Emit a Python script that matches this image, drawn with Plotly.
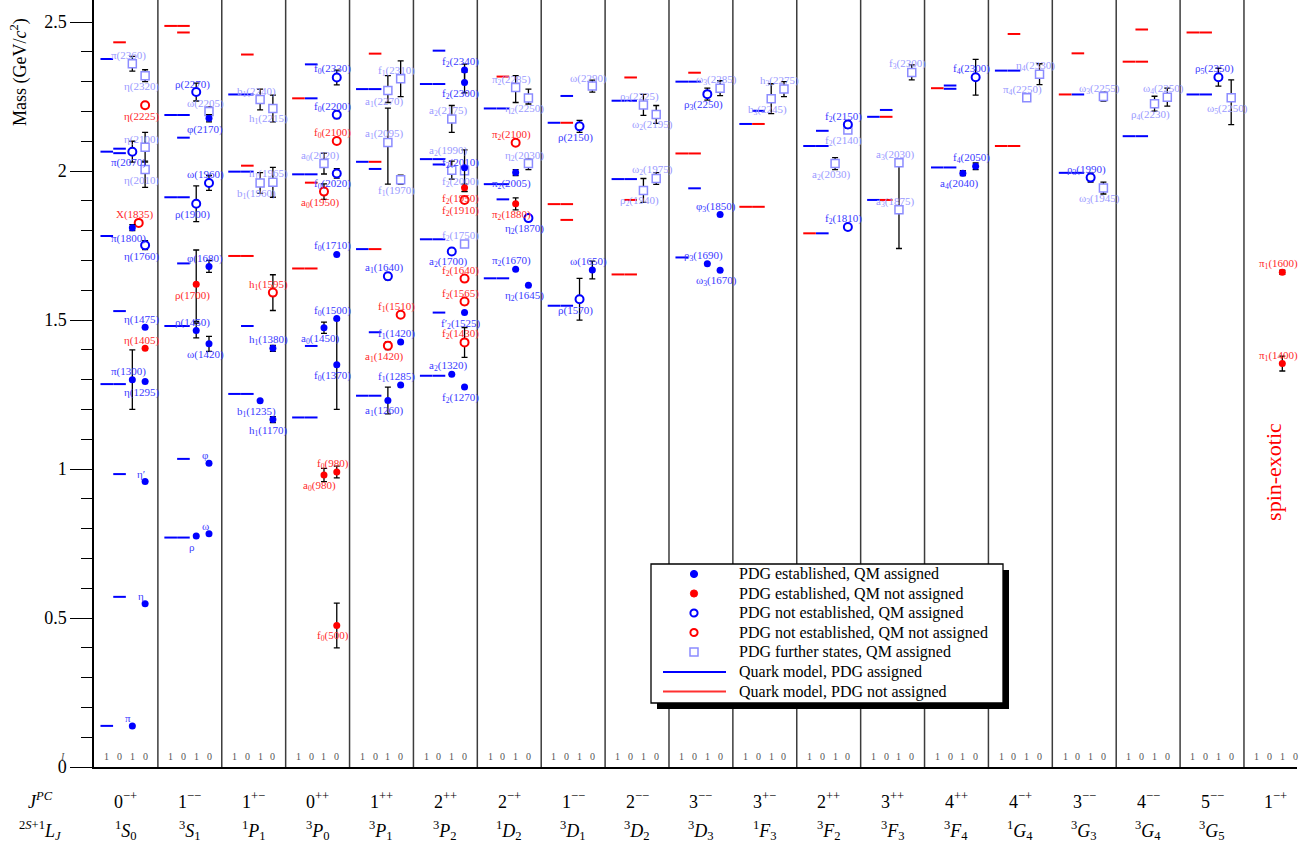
import plotly.graph_objects as go

# ---------------------------------------------------------------- categories
jpc_labels = ["0<sup>−+</sup>", "1<sup>−−</sup>", "1<sup>+−</sup>", "0<sup>++</sup>", "1<sup>++</sup>",
              "2<sup>++</sup>", "2<sup>−+</sup>", "1<sup>−−</sup>", "2<sup>−−</sup>", "3<sup>−−</sup>",
              "3<sup>+−</sup>", "2<sup>++</sup>", "3<sup>++</sup>", "4<sup>++</sup>", "4<sup>−+</sup>",
              "3<sup>−−</sup>", "4<sup>−−</sup>", "5<sup>−−</sup>", "1<sup>−+</sup>"]
term_labels = ["<sup>1</sup><i>S</i><sub>0</sub>", "<sup>3</sup><i>S</i><sub>1</sub>", "<sup>1</sup><i>P</i><sub>1</sub>",
               "<sup>3</sup><i>P</i><sub>0</sub>", "<sup>3</sup><i>P</i><sub>1</sub>", "<sup>3</sup><i>P</i><sub>2</sub>",
               "<sup>1</sup><i>D</i><sub>2</sub>", "<sup>3</sup><i>D</i><sub>1</sub>", "<sup>3</sup><i>D</i><sub>2</sub>",
               "<sup>3</sup><i>D</i><sub>3</sub>", "<sup>1</sup><i>F</i><sub>3</sub>", "<sup>3</sup><i>F</i><sub>2</sub>",
               "<sup>3</sup><i>F</i><sub>3</sub>", "<sup>3</sup><i>F</i><sub>4</sub>", "<sup>1</sup><i>G</i><sub>4</sub>",
               "<sup>3</sup><i>G</i><sub>3</sub>", "<sup>3</sup><i>G</i><sub>4</sub>", "<sup>3</sup><i>G</i><sub>5</sub>", ""]
isospin_row = ["1", "0", "1", "0"]
y_tick_vals = [0, 0.5, 1, 1.5, 2, 2.5]
y_tick_text = ["0", "0.5", "1", "1.5", "2", "2.5"]

# ---------------------------------------------------------------- quark-model levels (GeV)
# kind: "B" = quark model, PDG assigned ; "R" = quark model, PDG not assigned
qm_col = ([0] * 12 + [1] * 14 + [2] * 11 + [3] * 11 + [4] * 11 + [5] * 11 + [6] * 8 + [7] * 8 + [8] * 8 +
          [9] * 7 + [10] * 5 + [11] * 5 + [12] * 5 + [13] * 5 + [14] * 5 + [15] * 5 + [16] * 5 + [17] * 4)
qm_iso = [1, 0, 0, 1, 0, 0, 1, 1, 0, 0, 1, 0,
          1, 0, 0, 1, 0, 0, 1, 0, 0, 1, 0, 1, 0, 0,
          1, 0, 0, 1, 0, 1, 0, 0, 1, 0, 0,
          1, 0, 0, 1, 0, 0, 1, 0, 1, 0, 0,
          1, 0, 0, 1, 0, 1, 0, 0, 1, 0, 0,
          1, 0, 0, 1, 0, 1, 0, 0, 1, 0, 0,
          1, 0, 0, 1, 0, 1, 0, 0,
          1, 0, 0, 1, 0, 1, 0, 0,
          1, 0, 0, 1, 0, 1, 0, 0,
          1, 0, 1, 0, 1, 0, 0,
          1, 0, 1, 0, 0,
          1, 0, 1, 0, 0,
          1, 0, 1, 0, 0,
          1, 0, 1, 0, 0,
          1, 0, 1, 0, 0,
          1, 0, 1, 0, 0,
          1, 0, 1, 0, 0,
          1, 0, 1, 0]
qm_mass = [0.138, 0.571, 0.983, 1.285, 1.285, 1.530, 1.782, 2.065, 2.075, 2.060, 2.376, 2.432,
           0.770, 0.770, 1.034, 1.480, 1.480, 1.690, 1.912, 1.912, 2.112, 2.188, 2.188, 2.487, 2.487, 2.465,
           1.252, 1.252, 1.480, 1.715, 1.715, 1.998, 1.998, 2.018, 2.257, 2.257, 2.391,
           1.173, 1.173, 1.413, 1.673, 1.673, 1.961, 1.989, 1.989, 2.244, 2.244, 2.358,
           1.246, 1.246, 1.459, 1.738, 1.738, 2.031, 2.031, 2.007, 2.275, 2.275, 2.394,
           1.313, 1.313, 1.525, 1.771, 1.771, 2.040, 2.040, 2.022, 2.292, 2.292, 2.404,
           1.640, 1.640, 1.905, 1.956, 1.956, 2.210, 2.210, 2.317,
           1.548, 1.548, 1.836, 1.889, 1.889, 2.162, 2.162, 2.252,
           1.653, 1.653, 1.903, 1.973, 1.973, 2.236, 2.236, 2.314,
           1.710, 1.942, 2.059, 2.059, 2.300, 2.300, 2.330,
           1.880, 1.880, 2.158, 2.158, 2.202,
           1.791, 1.791, 2.084, 2.084, 2.135,
           1.903, 1.903, 2.182, 2.182, 2.205,
           2.012, 2.012, 2.278, 2.287, 2.276,
           2.084, 2.084, 2.337, 2.337, 2.460,
           1.994, 1.994, 2.257, 2.257, 2.395,
           2.117, 2.117, 2.367, 2.367, 2.475,
           2.257, 2.257, 2.465, 2.465]
qm_kind = ["B", "B", "B", "B", "B", "B", "B", "B", "B", "B", "B", "R",
           "B", "B", "B", "B", "B", "B", "B", "B", "B", "B", "B", "R", "R", "R",
           "B", "B", "B", "R", "R", "B", "B", "R", "B", "B", "R",
           "B", "B", "B", "R", "R", "R", "B", "B", "R", "B", "B",
           "B", "B", "B", "B", "R", "B", "R", "B", "B", "B", "R",
           "B", "B", "B", "B", "B", "B", "B", "B", "B", "B", "B",
           "B", "B", "B", "B", "B", "B", "B", "R",
           "B", "B", "R", "R", "R", "B", "R", "B",
           "R", "R", "R", "B", "B", "B", "B", "R",
           "B", "B", "R", "R", "B", "B", "R",
           "R", "R", "B", "R", "B",
           "R", "B", "B", "B", "B",
           "B", "R", "B", "R", "B",
           "B", "B", "R", "B", "B",
           "R", "R", "B", "B", "R",
           "B", "B", "R", "B", "R",
           "B", "B", "R", "R", "R",
           "B", "B", "R", "R"]

# ---------------------------------------------------------------- observed mesons (GeV)
# kind: E established/QM assigned, e established/not assigned,
#       N not established/assigned, n not established/not assigned, F further states
st_name = [
    "π", "π(1300)", "π(1800)", "π(2070)", "π(2360)", "η", "η′", "η(1295)", "η(1405)", "η(1475)",
    "η(1760)", "X(1835)", "η(2010)", "η(2100)", "η(2225)", "η(2320)",
    "ρ", "ρ(1450)", "ρ(1700)", "ρ(1900)", "ρ(2270)", "ω", "φ", "ω(1420)", "φ(1680)", "ω(1960)", "φ(2170)", "ω(2205)",
    "b<sub>1</sub>(1235)", "b<sub>1</sub>(1960)", "b<sub>1</sub>(2240)", "h<sub>1</sub>(1170)", "h<sub>1</sub>(1380)",
    "h<sub>1</sub>(1595)", "h<sub>1</sub>(1965)", "h<sub>1</sub>(2215)",
    "a<sub>0</sub>(980)", "a<sub>0</sub>(1450)", "a<sub>0</sub>(1950)", "a<sub>0</sub>(2020)", "f<sub>0</sub>(500)",
    "f<sub>0</sub>(980)", "f<sub>0</sub>(1370)", "f<sub>0</sub>(1500)", "f<sub>0</sub>(1710)", "f<sub>0</sub>(2020)",
    "f<sub>0</sub>(2100)", "f<sub>0</sub>(2200)", "f<sub>0</sub>(2330)",
    "a<sub>1</sub>(1260)", "a<sub>1</sub>(1420)", "a<sub>1</sub>(1640)", "a<sub>1</sub>(2095)", "a<sub>1</sub>(2270)",
    "f<sub>1</sub>(1285)", "f<sub>1</sub>(1420)", "f<sub>1</sub>(1510)", "f<sub>1</sub>(1970)", "f<sub>1</sub>(2310)",
    "a<sub>2</sub>(1320)", "a<sub>2</sub>(1700)", "a<sub>2</sub>(1990)", "a<sub>2</sub>(2175)", "f<sub>2</sub>(1270)",
    "f<sub>2</sub>(1430)", "f′<sub>2</sub>(1525)", "f<sub>2</sub>(1565)", "f<sub>2</sub>(1640)", "f<sub>2</sub>(1750)",
    "f<sub>2</sub>(1910)", "f<sub>2</sub>(1950)", "f<sub>2</sub>(2000)", "f<sub>2</sub>(2010)", "f<sub>2</sub>(2300)",
    "f<sub>2</sub>(2340)",
    "π<sub>2</sub>(1670)", "π<sub>2</sub>(1880)", "π<sub>2</sub>(2005)", "π<sub>2</sub>(2100)", "π<sub>2</sub>(2285)",
    "η<sub>2</sub>(1645)", "η<sub>2</sub>(1870)", "η<sub>2</sub>(2030)", "η<sub>2</sub>(2250)",
    "ρ(1570)", "ρ(2150)", "ω(1650)", "ω(2290)",
    "ρ<sub>2</sub>(1940)", "ρ<sub>2</sub>(2225)", "ω<sub>2</sub>(1975)", "ω<sub>2</sub>(2195)",
    "ρ<sub>3</sub>(1690)", "ρ<sub>3</sub>(2250)", "φ<sub>3</sub>(1850)", "ω<sub>3</sub>(1670)", "ω<sub>3</sub>(2285)",
    "b<sub>3</sub>(2245)", "h<sub>3</sub>(2275)",
    "a<sub>2</sub>(2030)", "f<sub>2</sub>(1810)", "f<sub>2</sub>(2140)", "f<sub>2</sub>(2150)",
    "a<sub>3</sub>(1875)", "a<sub>3</sub>(2030)", "f<sub>3</sub>(2300)",
    "a<sub>4</sub>(2040)", "f<sub>4</sub>(2050)", "f<sub>4</sub>(2300)",
    "π<sub>4</sub>(2250)", "η<sub>4</sub>(2330)",
    "ρ<sub>3</sub>(1990)", "ω<sub>3</sub>(1945)", "ω<sub>3</sub>(2255)",
    "ρ<sub>4</sub>(2230)", "ω<sub>4</sub>(2250)",
    "ρ<sub>5</sub>(2350)", "ω<sub>5</sub>(2250)",
    "π<sub>1</sub>(1400)", "π<sub>1</sub>(1600)",
]
st_col = ([0] * 16 + [1] * 12 + [2] * 8 + [3] * 13 + [4] * 10 + [5] * 16 + [6] * 9 + [7] * 4 + [8] * 4 +
          [9] * 5 + [10] * 2 + [11] * 4 + [12] * 3 + [13] * 3 + [14] * 2 + [15] * 3 + [16] * 2 + [17] * 2 + [18] * 2)
st_iso = ([1, 1, 1, 1, 1] + [0] * 11 +
          [1] * 5 + [0] * 7 +
          [1] * 3 + [0] * 5 +
          [1] * 4 + [0] * 9 +
          [1] * 5 + [0] * 5 +
          [1] * 4 + [0] * 12 +
          [1] * 5 + [0] * 4 +
          [1, 1, 0, 0] + [1, 1, 0, 0] + [1, 1, 0, 0, 0] + [1, 0] + [1, 0, 0, 0] + [1, 1, 0] +
          [1, 0, 0] + [1, 0] + [1, 0, 0] + [1, 0] + [1, 0] + [1, 1])
st_mass = [0.138, 1.300, 1.810, 2.065, 2.360, 0.548, 0.958, 1.294, 1.405, 1.476,
           1.751, 1.826, 2.005, 2.080, 2.221, 2.320,
           0.775, 1.465, 1.620, 1.890, 2.265, 0.783, 1.019, 1.420, 1.680, 1.960, 2.177, 2.200,
           1.2295, 1.960, 2.240, 1.166, 1.405, 1.592, 1.962, 2.210,
           0.980, 1.474, 1.931, 2.025, 0.475, 0.990, 1.350, 1.505, 1.720, 1.992, 2.101, 2.189, 2.314,
           1.230, 1.414, 1.647, 2.096, 2.270, 1.282, 1.426, 1.518, 1.971, 2.310,
           1.318, 1.730, 2.003, 2.175, 1.275, 1.425, 1.525, 1.562, 1.639, 1.755, 1.903, 1.944, 2.001, 2.011,
           2.297, 2.339,
           1.6706, 1.890, 1.995, 2.095, 2.280, 1.617, 1.842, 2.025, 2.245,
           1.570, 2.150, 1.668, 2.285,
           1.935, 2.222, 1.975, 2.190,
           1.6888, 2.258, 1.854, 1.667, 2.278,
           2.243, 2.275,
           2.025, 1.812, 2.138, 2.156,
           1.870, 2.028, 2.331,
           1.993, 2.016, 2.315,
           2.246, 2.325,
           1.978, 1.943, 2.250,
           2.226, 2.248,
           2.315, 2.246,
           1.354, 1.660]
st_err_lo = [0, 0.100, 0.010, 0.035, 0.025, 0, 0, 0, 0, 0, 0.015, 0.006, 0.060, 0.050, 0.010, 0.020,
             0, 0.025, 0.125, 0.060, 0.030, 0, 0, 0.025, 0.020, 0.025, 0.012, 0.015,
             0, 0.035, 0.035, 0.010, 0.010, 0.060, 0.050, 0.045,
             0.022, 0.019, 0.026, 0.035, 0.075, 0.020, 0.150, 0, 0, 0.016, 0, 0.013, 0.025,
             0.045, 0.013, 0.012, 0.140, 0.040, 0, 0, 0, 0.015, 0.060,
             0, 0.010, 0.030, 0.045, 0, 0.050, 0, 0.010, 0, 0, 0.010, 0.012, 0.010, 0.080, 0.035, 0.040,
             0, 0.020, 0.010, 0, 0.050, 0, 0.008, 0.020, 0.020,
             0.070, 0.020, 0.030, 0.020,
             0.040, 0.035, 0.020, 0.030,
             0, 0.020, 0, 0, 0.025,
             0.050, 0.025,
             0.020, 0.010, 0, 0.012,
             0.130, 0.012, 0.025,
             0.008, 0.011, 0.060,
             0.012, 0.035,
             0.015, 0.020, 0.015,
             0.025, 0.030,
             0.030, 0.090,
             0.025, 0.007]
st_err_hi = [0, 0.100, 0.010, 0.035, 0.025, 0, 0, 0, 0, 0, 0.015, 0.006, 0.028, 0.050, 0.010, 0.020,
             0, 0.025, 0.115, 0.060, 0.030, 0, 0, 0.025, 0.020, 0.025, 0.012, 0.015,
             0, 0.035, 0.035, 0.010, 0.010, 0.060, 0.050, 0.045,
             0.022, 0.019, 0.026, 0.035, 0.075, 0.020, 0.150, 0, 0, 0.016, 0, 0.013, 0.025,
             0.045, 0.013, 0.012, 0.115, 0.050, 0, 0, 0, 0.015, 0.060,
             0, 0.010, 0.030, 0.045, 0, 0.050, 0, 0.010, 0, 0, 0.010, 0.012, 0.010, 0.060, 0.035, 0.020,
             0, 0.020, 0.010, 0, 0.040, 0, 0.008, 0.015, 0.030,
             0.070, 0.020, 0.030, 0.020,
             0.040, 0.035, 0.020, 0.030,
             0, 0.020, 0, 0, 0.025,
             0.050, 0.025,
             0.020, 0.010, 0, 0.012,
             0.150, 0.012, 0.025,
             0.008, 0.011, 0.060,
             0.012, 0.035,
             0.015, 0.020, 0.015,
             0.025, 0.030,
             0.030, 0.060,
             0.025, 0.007]
st_kind = ["E", "E", "E", "N", "F", "E", "E", "E", "e", "E", "N", "n", "F", "F", "n", "F",
           "E", "E", "e", "N", "N", "E", "E", "E", "E", "N", "E", "F",
           "E", "F", "F", "E", "E", "n", "F", "F",
           "e", "E", "n", "F", "e", "e", "E", "E", "E", "N", "n", "N", "N",
           "E", "n", "N", "F", "F", "E", "E", "n", "F", "F",
           "E", "N", "F", "F", "E", "n", "E", "n", "n", "F", "n", "e", "F", "E", "E", "E",
           "E", "e", "E", "n", "F", "E", "N", "F", "F",
           "N", "N", "E", "F",
           "F", "F", "F", "F",
           "E", "N", "E", "E", "F",
           "F", "F",
           "F", "N", "F", "N",
           "F", "F", "F",
           "E", "E", "N",
           "F", "F",
           "N", "F", "F",
           "F", "F",
           "N", "F",
           "e", "e"]

# ---------------------------------------------------------------- label placement (a = above, b = below)
label_side = ["a", "a", "b", "b", "a", "a", "a", "b", "a", "a", "b", "a", "b", "a", "b", "b",
              "b", "a", "b", "b", "a", "a", "a", "b", "a", "a", "b", "a",
              "b", "b", "a", "b", "a", "a", "a", "b",
              "b", "b", "b", "a", "b", "a", "b", "a", "a", "b", "a", "a", "a",
              "b", "b", "a", "a", "b", "a", "a", "a", "b", "a",
              "a", "b", "a", "a", "b", "a", "b", "a", "a", "a", "b", "b", "b", "a", "b", "a",
              "a", "b", "b", "a", "a", "b", "b", "a", "b",
              "b", "b", "a", "a",
              "b", "a", "a", "b",
              "a", "b", "a", "b", "a",
              "b", "a",
              "b", "a", "b", "a",
              "a", "a", "a",
              "b", "a", "a",
              "a", "a",
              "a", "b", "a",
              "b", "a",
              "a", "b",
              "a", "a"]
x_nudge = {"X(1835)": -0.1}
y_label_shift = {"a<sub>2</sub>(1990)": 19, "f<sub>2</sub>(2010)": 5}

n = len(st_name)
for arr in (st_col, st_iso, st_mass, st_err_lo, st_err_hi, st_kind, label_side):
    assert len(arr) == n, (len(arr), n)
for arr in (qm_iso, qm_mass, qm_kind):
    assert len(arr) == len(qm_col)

# ---------------------------------------------------------------- styling
FONT = "Liberation Serif"
BLUE, RED, LIGHT = "#0000ff", "#ff0000", "#8c8cff"
LABEL_COLOR = {"E": "#3a3aff", "N": "#3a3aff", "e": "#ff2a2a", "n": "#ff2a2a", "F": "#9a9aff"}
QM_SLOT = {1: 0.2, 0: 0.4}
ST_SLOT = {1: 0.6, 0: 0.8}
X_MAX = 18.83
PLOT_L, PLOT_W, PLOT_H = 94, 1203, 767


def px(X):
    return (X - PLOT_L) / PLOT_W


def py(Y):
    return (PLOT_H - Y) / PLOT_H


fig = go.Figure()

# quark-model predictions as short horizontal dashes
for kind, color in (("B", BLUE), ("R", RED)):
    idx = [i for i, k in enumerate(qm_kind) if k == kind]
    fig.add_trace(go.Scatter(
        x=[qm_col[i] + QM_SLOT[qm_iso[i]] for i in idx],
        y=[qm_mass[i] for i in idx],
        mode="markers", showlegend=False, hoverinfo="skip",
        marker=dict(symbol="line-ew", size=9, line=dict(color=color, width=2))))

marker_style = {
    "F": dict(symbol="square", size=8, color="white", line=dict(color=LIGHT, width=1.5)),
    "N": dict(symbol="circle", size=8, color="white", line=dict(color=BLUE, width=2)),
    "n": dict(symbol="circle", size=8, color="white", line=dict(color=RED, width=2)),
    "E": dict(symbol="circle", size=7, color=BLUE, line=dict(width=0)),
    "e": dict(symbol="circle", size=7, color=RED, line=dict(width=0)),
}


def err(v):
    return v if v > 0 else float("nan")


for kind in ("F", "N", "n", "E", "e"):
    idx = [i for i, k in enumerate(st_kind) if k == kind]
    fig.add_trace(go.Scatter(
        x=[st_col[i] + ST_SLOT[st_iso[i]] + x_nudge.get(st_name[i], 0) for i in idx],
        y=[st_mass[i] for i in idx],
        mode="markers", showlegend=False, text=[st_name[i] for i in idx], hoverinfo="text",
        marker=marker_style[kind],
        error_y=dict(type="data", symmetric=False,
                     array=[err(st_err_hi[i]) for i in idx],
                     arrayminus=[err(st_err_lo[i]) for i in idx],
                     color="black", thickness=1.3, width=3)))


def note(x, y, text, xref, yref, size, color, **kw):
    d = dict(x=x, y=y, xref=xref, yref=yref, text=text, showarrow=False,
             xanchor="center", yanchor="middle",
             font=dict(family=FONT, size=size, color=color))
    d.update(kw)
    return d


annotations = []
for i in range(n):
    shift = y_label_shift.get(st_name[i], 8 if label_side[i] == "a" else -11)
    annotations.append(note(
        st_col[i] + ST_SLOT[st_iso[i]] + x_nudge.get(st_name[i], 0), st_mass[i], st_name[i], "x", "y",
        11, LABEL_COLOR[st_kind[i]], xshift=-4, yshift=shift))

# isospin row and column labels
for c in range(len(jpc_labels)):
    for k, lab in enumerate(isospin_row):
        annotations.append(note(c + 0.2 + 0.2 * k, 0.034, lab, "x", "y", 10, "#555555"))
    annotations.append(note(c + 0.5, py(801), jpc_labels[c], "x", "paper", 18, "black"))
    if term_labels[c]:
        annotations.append(note(c + 0.5, py(831), term_labels[c], "x", "paper", 18, "black"))

annotations += [
    note(px(62), 0.034, "<i>I</i>", "paper", "y", 10, "#555555"),
    note(px(40), py(801), "<i>J<sup>PC</sup></i>", "paper", "paper", 18, "black"),
    note(px(40), py(831), "<sup>2<i>S</i>+1</sup><i>L<sub>J</sub></i>", "paper", "paper", 18, "black"),
    note(px(19), py(72), "Mass (GeV/<i>c</i><sup>2</sup>)", "paper", "paper", 18, "black", textangle=-90),
    note(18.5, 0.99, "spin-exotic", "x", "y", 22, RED, textangle=-90, xshift=-3),
]

# column separators
shapes = [dict(type="line", x0=c, x1=c, y0=0, y1=1, xref="x", yref="paper", layer="below",
               line=dict(color="#3c3c3c", width=1.5)) for c in range(1, len(jpc_labels))]

# legend box with drop shadow
legend_text = ["PDG established, QM assigned", "PDG established, QM not assigned",
               "PDG not established, QM assigned", "PDG not established, QM not assigned",
               "PDG further states, QM assigned", "Quark model, PDG assigned", "Quark model, PDG not assigned"]
legend_kind = ["E", "e", "N", "n", "F", "B", "R"]
row_y = [574, 593.5, 613, 632.5, 652, 672, 691.5]
shapes.append(dict(type="rect", xref="paper", yref="paper", x0=px(657), x1=px(1009), y0=py(709), y1=py(570),
                   fillcolor="black", line=dict(width=0), layer="above"))
shapes.append(dict(type="rect", xref="paper", yref="paper", x0=px(651), x1=px(1003), y0=py(703), y1=py(564),
                   fillcolor="white", line=dict(color="black", width=1.3), layer="above"))
for kind, Y, txt in zip(legend_kind, row_y, legend_text):
    if kind in ("B", "R"):
        shapes.append(dict(type="line", xref="paper", yref="paper", x0=px(663), x1=px(726), y0=py(Y), y1=py(Y),
                           line=dict(color=BLUE if kind == "B" else "#ff3030", width=2), layer="above"))
    elif kind == "F":
        shapes.append(dict(type="rect", xref="paper", yref="paper", x0=px(690), x1=px(698), y0=py(Y + 4),
                           y1=py(Y - 4), fillcolor="white", line=dict(color=LIGHT, width=1.5), layer="above"))
    else:
        col = BLUE if kind in ("E", "N") else RED
        fill = col if kind in ("E", "e") else "white"
        r = 3.6
        shapes.append(dict(type="circle", xref="paper", yref="paper", x0=px(694 - r), x1=px(694 + r),
                           y0=py(Y + r), y1=py(Y - r), fillcolor=fill,
                           line=dict(color=col, width=2 if fill == "white" else 1), layer="above"))
    annotations.append(note(px(737), py(Y), txt, "paper", "paper", 16, "black", xanchor="left"))

fig.update_layout(
    width=1299, height=852,
    margin=dict(l=PLOT_L, r=1299 - PLOT_L - PLOT_W, t=0, b=852 - PLOT_H),
    paper_bgcolor="white", plot_bgcolor="white",
    showlegend=False,
    shapes=shapes, annotations=annotations,
    xaxis=dict(range=[0, X_MAX], showgrid=False, zeroline=False, showticklabels=False, ticks="",
               showline=True, linecolor="black", linewidth=1.5),
    yaxis=dict(range=[0, 2.574], showgrid=False, zeroline=False, showline=True, linecolor="black",
               linewidth=1.5, ticks="outside", ticklen=22, tickwidth=1.3, tickcolor="black",
               tickvals=y_tick_vals, ticktext=y_tick_text,
               tickfont=dict(family=FONT, size=18, color="black"),
               minor=dict(dtick=0.1, tick0=0, ticks="outside", ticklen=11, tickwidth=1, tickcolor="black")),
)

fig.write_html("out.html")
